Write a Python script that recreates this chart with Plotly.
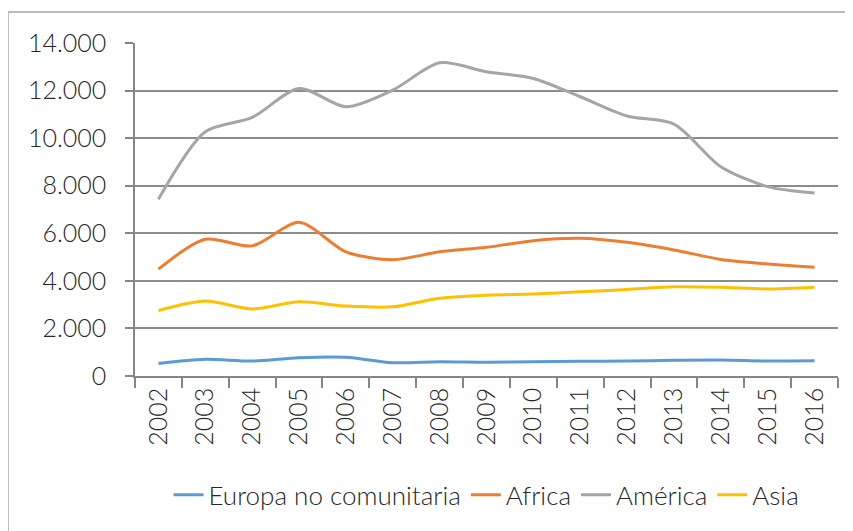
import plotly.graph_objects as go

years = ["2002", "2003", "2004", "2005", "2006", "2007", "2008", "2009",
         "2010", "2011", "2012", "2013", "2014", "2015", "2016"]

europa = [530, 700, 630, 770, 790, 560, 600, 580, 600, 620, 630, 660, 670, 630, 640]
africa = [4490, 5750, 5470, 6460, 5220, 4890, 5220, 5410, 5690, 5790, 5620, 5300, 4900, 4710, 4570]
america = [7430, 10270, 10870, 12090, 11320, 12020, 13170, 12790, 12510, 11740, 10930, 10590, 8800, 7960, 7690]
asia = [2750, 3150, 2820, 3120, 2940, 2910, 3270, 3400, 3450, 3540, 3640, 3750, 3730, 3660, 3730]

series = [
    ("Europa no comunitaria", europa, "#5B9BD5"),
    ("Africa", africa, "#ED7D31"),
    ("América", america, "#A5A5A5"),
    ("Asia", asia, "#FFC000"),
]

fig = go.Figure()
for name, vals, color in series:
    fig.add_trace(go.Scatter(
        x=years, y=vals, name=name, mode="lines",
        line=dict(color=color, width=3, shape="spline", smoothing=0.8),
    ))

FONT = "Lato"
fig.update_layout(
    width=845, height=523,
    margin=dict(l=127, r=15, t=35, b=155),
    paper_bgcolor="white", plot_bgcolor="white",
    separators=",.",
    font=dict(family=FONT, size=25, color="#262626", weight=300),
    showlegend=True,
    legend=dict(orientation="h", x=0.5, xanchor="center", y=-0.357, yanchor="middle",
                font=dict(size=26, weight=300), tracegroupgap=0),
    shapes=[dict(type="rect", xref="paper", yref="paper",
                 x0=-0.1807, x1=1.03, y0=-0.5, y1=1.0931,
                 line=dict(color="#A6A6A6", width=1.5), layer="below")],
)
fig.update_xaxes(
    type="category", tickson="boundaries", ticks="outside", ticklen=10,
    tickcolor="#868686", tickwidth=1.5, tickangle=-90,
    showline=True, linecolor="#868686", linewidth=1.5,
    showgrid=False, range=[-0.5, 14.5], zeroline=False,
)
fig.update_yaxes(
    range=[0, 14000], dtick=2000, tickformat=",d",
    ticks="outside", ticklen=8, tickcolor="#868686", tickwidth=1.5,
    showline=True, linecolor="#868686", linewidth=1.5,
    showgrid=True, gridcolor="#8C8C8C", gridwidth=1.5, zeroline=False,
    ticklabelstandoff=14,
)
fig.write_html("out.html")
